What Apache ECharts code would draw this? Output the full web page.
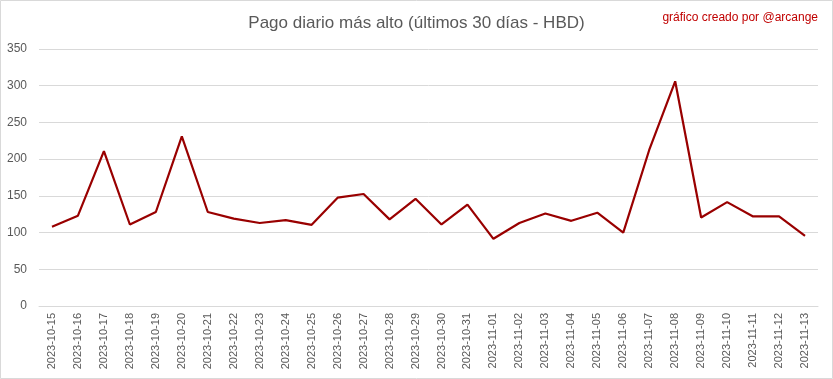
<!DOCTYPE html>
<html>
<head>
<meta charset="utf-8">
<script src="https://cdn.jsdelivr.net/npm/echarts@6/dist/echarts.min.js"></script>
<style>
html,body{margin:0;padding:0;background:#fff;}
#c{width:833px;height:379px;}
</style>
</head>
<body>
<div id="c"></div>
<script>
const categories = ["2023-10-15","2023-10-16","2023-10-17","2023-10-18","2023-10-19","2023-10-20","2023-10-21","2023-10-22","2023-10-23","2023-10-24","2023-10-25","2023-10-26","2023-10-27","2023-10-28","2023-10-29","2023-10-30","2023-10-31","2023-11-01","2023-11-02","2023-11-03","2023-11-04","2023-11-05","2023-11-06","2023-11-07","2023-11-08","2023-11-09","2023-11-10","2023-11-11","2023-11-12","2023-11-13"];
const values = [108,123,211,111,128,231,128,119,113,117,110.5,147.5,152.5,118,146,111,138,91.5,113,126,116,127,100,212.5,306,120.5,141.5,122,122,95.5];
const yTicks = {min:0, max:350, interval:50};
const titleText = "Pago diario más alto (últimos 30 días - HBD)";
const creditText = "gráfico creado por @arcange";

const font = "'Liberation Sans',sans-serif";
const chart = echarts.init(document.getElementById('c'));
chart.setOption({
  animation:false,
  backgroundColor:'#fff',
  title:[
    {text:titleText,left:'center',top:10,textStyle:{fontFamily:font,fontSize:17,fontWeight:'normal',color:'#595959'}},
    {text:creditText,right:10,top:7,textStyle:{fontFamily:font,fontSize:12,fontWeight:'normal',color:'#c00000'}}
  ],
  graphic:[{type:'rect',shape:{x:0.5,y:0.5,width:832,height:378},style:{fill:'none',stroke:'#d9d9d9',lineWidth:1},silent:true}],
  grid:{left:39,right:15,top:49,bottom:73,containLabel:false},
  xAxis:{
    type:'category',data:categories,boundaryGap:true,
    axisLine:{lineStyle:{color:'#d9d9d9'}},
    axisTick:{show:false},
    axisLabel:{rotate:90,margin:7,interval:0,color:'#595959',fontFamily:font,fontSize:11}
  },
  yAxis:{
    type:'value',min:yTicks.min,max:yTicks.max,interval:yTicks.interval,
    axisLine:{show:false},axisTick:{show:false},
    splitLine:{lineStyle:{color:'#d9d9d9'}},
    axisLabel:{margin:12,color:'#595959',fontFamily:font,fontSize:12}
  },
  series:[{type:'line',data:values,symbol:'none',lineStyle:{color:'#990000',width:2.2}}]
});
</script>
</body>
</html>
